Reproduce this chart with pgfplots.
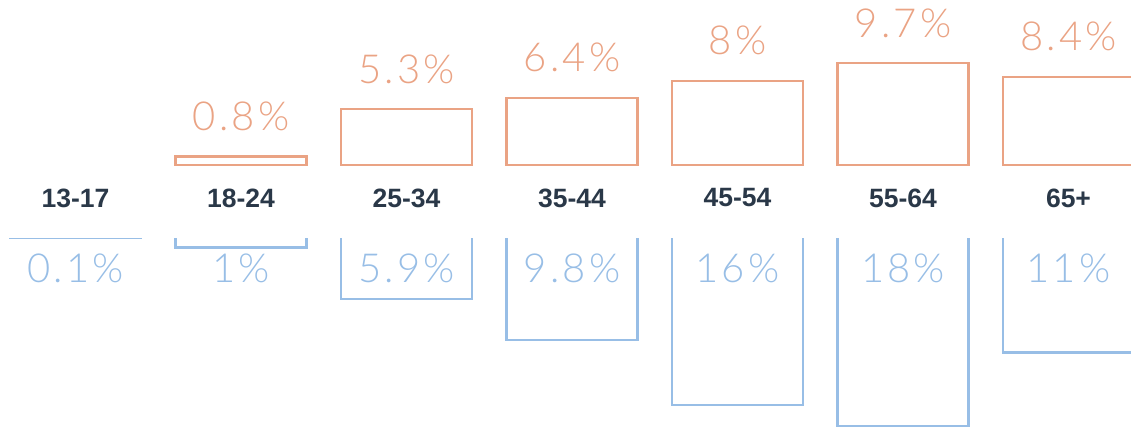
\documentclass[border=0pt]{standalone}
\usepackage{fontspec}
\setmainfont{Liberation Sans}
\newfontfamily\lightfont{Lato Light}[LetterSpace=8]
\usepackage{pgfplots}
\usepackage{pgfplotstable}
\pgfplotsset{compat=1.18}
\definecolor{orng}{RGB}{234,163,132}
\definecolor{blu}{RGB}{152,190,230}
\definecolor{dark}{RGB}{42,56,72}

\pgfplotstableread{
x v
1 0.8
2 5.3
3 6.4
4 8
5 9.7
6 8.4
}\topdata

\pgfplotstableread{
x v
0 0.1
1 1
2 5.9
3 9.8
4 16
5 18
6 11
}\botdata

\begin{document}
\begin{tikzpicture}
\path[use as bounding box, clip] (0pt,0pt) rectangle (1131pt,431pt);
\begin{axis}[
  at={(0pt,255.5pt)}, anchor=south west,
  scale only axis, width=1131pt, height=175.5pt,
  xmin=-0.4562, xmax=6.3776, ymin=-1, ymax=15.714,
  enlargelimits=false, clip=false,
  /pgf/number format/assume math mode=true,
  axis line style={draw=none}, tick style={draw=none},
  ytick=\empty,
  xtick={0,...,6},
  xticklabels={13-17,18-24,25-34,35-44,45-54,55-64,65+},
  xticklabel style={font=\bfseries\fontsize{26.5}{26.5}\selectfont, text=dark, anchor=center, yshift=-22.5pt},
]
\addplot[ybar, bar width=131pt, draw=orng, fill=none, line width=2.2pt,
  nodes near coords={\pgfmathprintnumber{\pgfplotspointmeta}\%},
  point meta=y,
  every node near coord/.append style={anchor=base, yshift=26pt, text=orng, font=\lightfont\fontsize{40}{40}\selectfont},
] table[x=x, y=v] {\topdata};
\end{axis}
\begin{axis}[
  at={(0pt,0pt)}, anchor=south west,
  scale only axis, width=1131pt, height=194pt,
  xmin=-0.4562, xmax=6.3776, ymin=0, ymax=18.476,
  y dir=reverse,
  enlargelimits=false,
  /pgf/number format/assume math mode=true,
  axis line style={draw=none}, tick style={draw=none},
  ytick=\empty, xtick=\empty,
]
\addplot[ybar, bar width=131pt, draw=blu, fill=none, line width=2.2pt] table[x=x, y=v] {\botdata};
\draw[white, line width=2.1pt] (axis cs:-0.6,0) -- (axis cs:6.5,0);
\addplot[draw=none, mark=none, nodes near coords={\pgfmathprintnumber{\pgfplotspointmeta}\%},
  point meta=\thisrow{v},
  every node near coord/.append style={anchor=base, yshift=0pt, text=blu, font=\lightfont\fontsize{40}{40}\selectfont},
] table[x=x, y expr=4.29] {\botdata};
\end{axis}
\end{tikzpicture}
\end{document}
